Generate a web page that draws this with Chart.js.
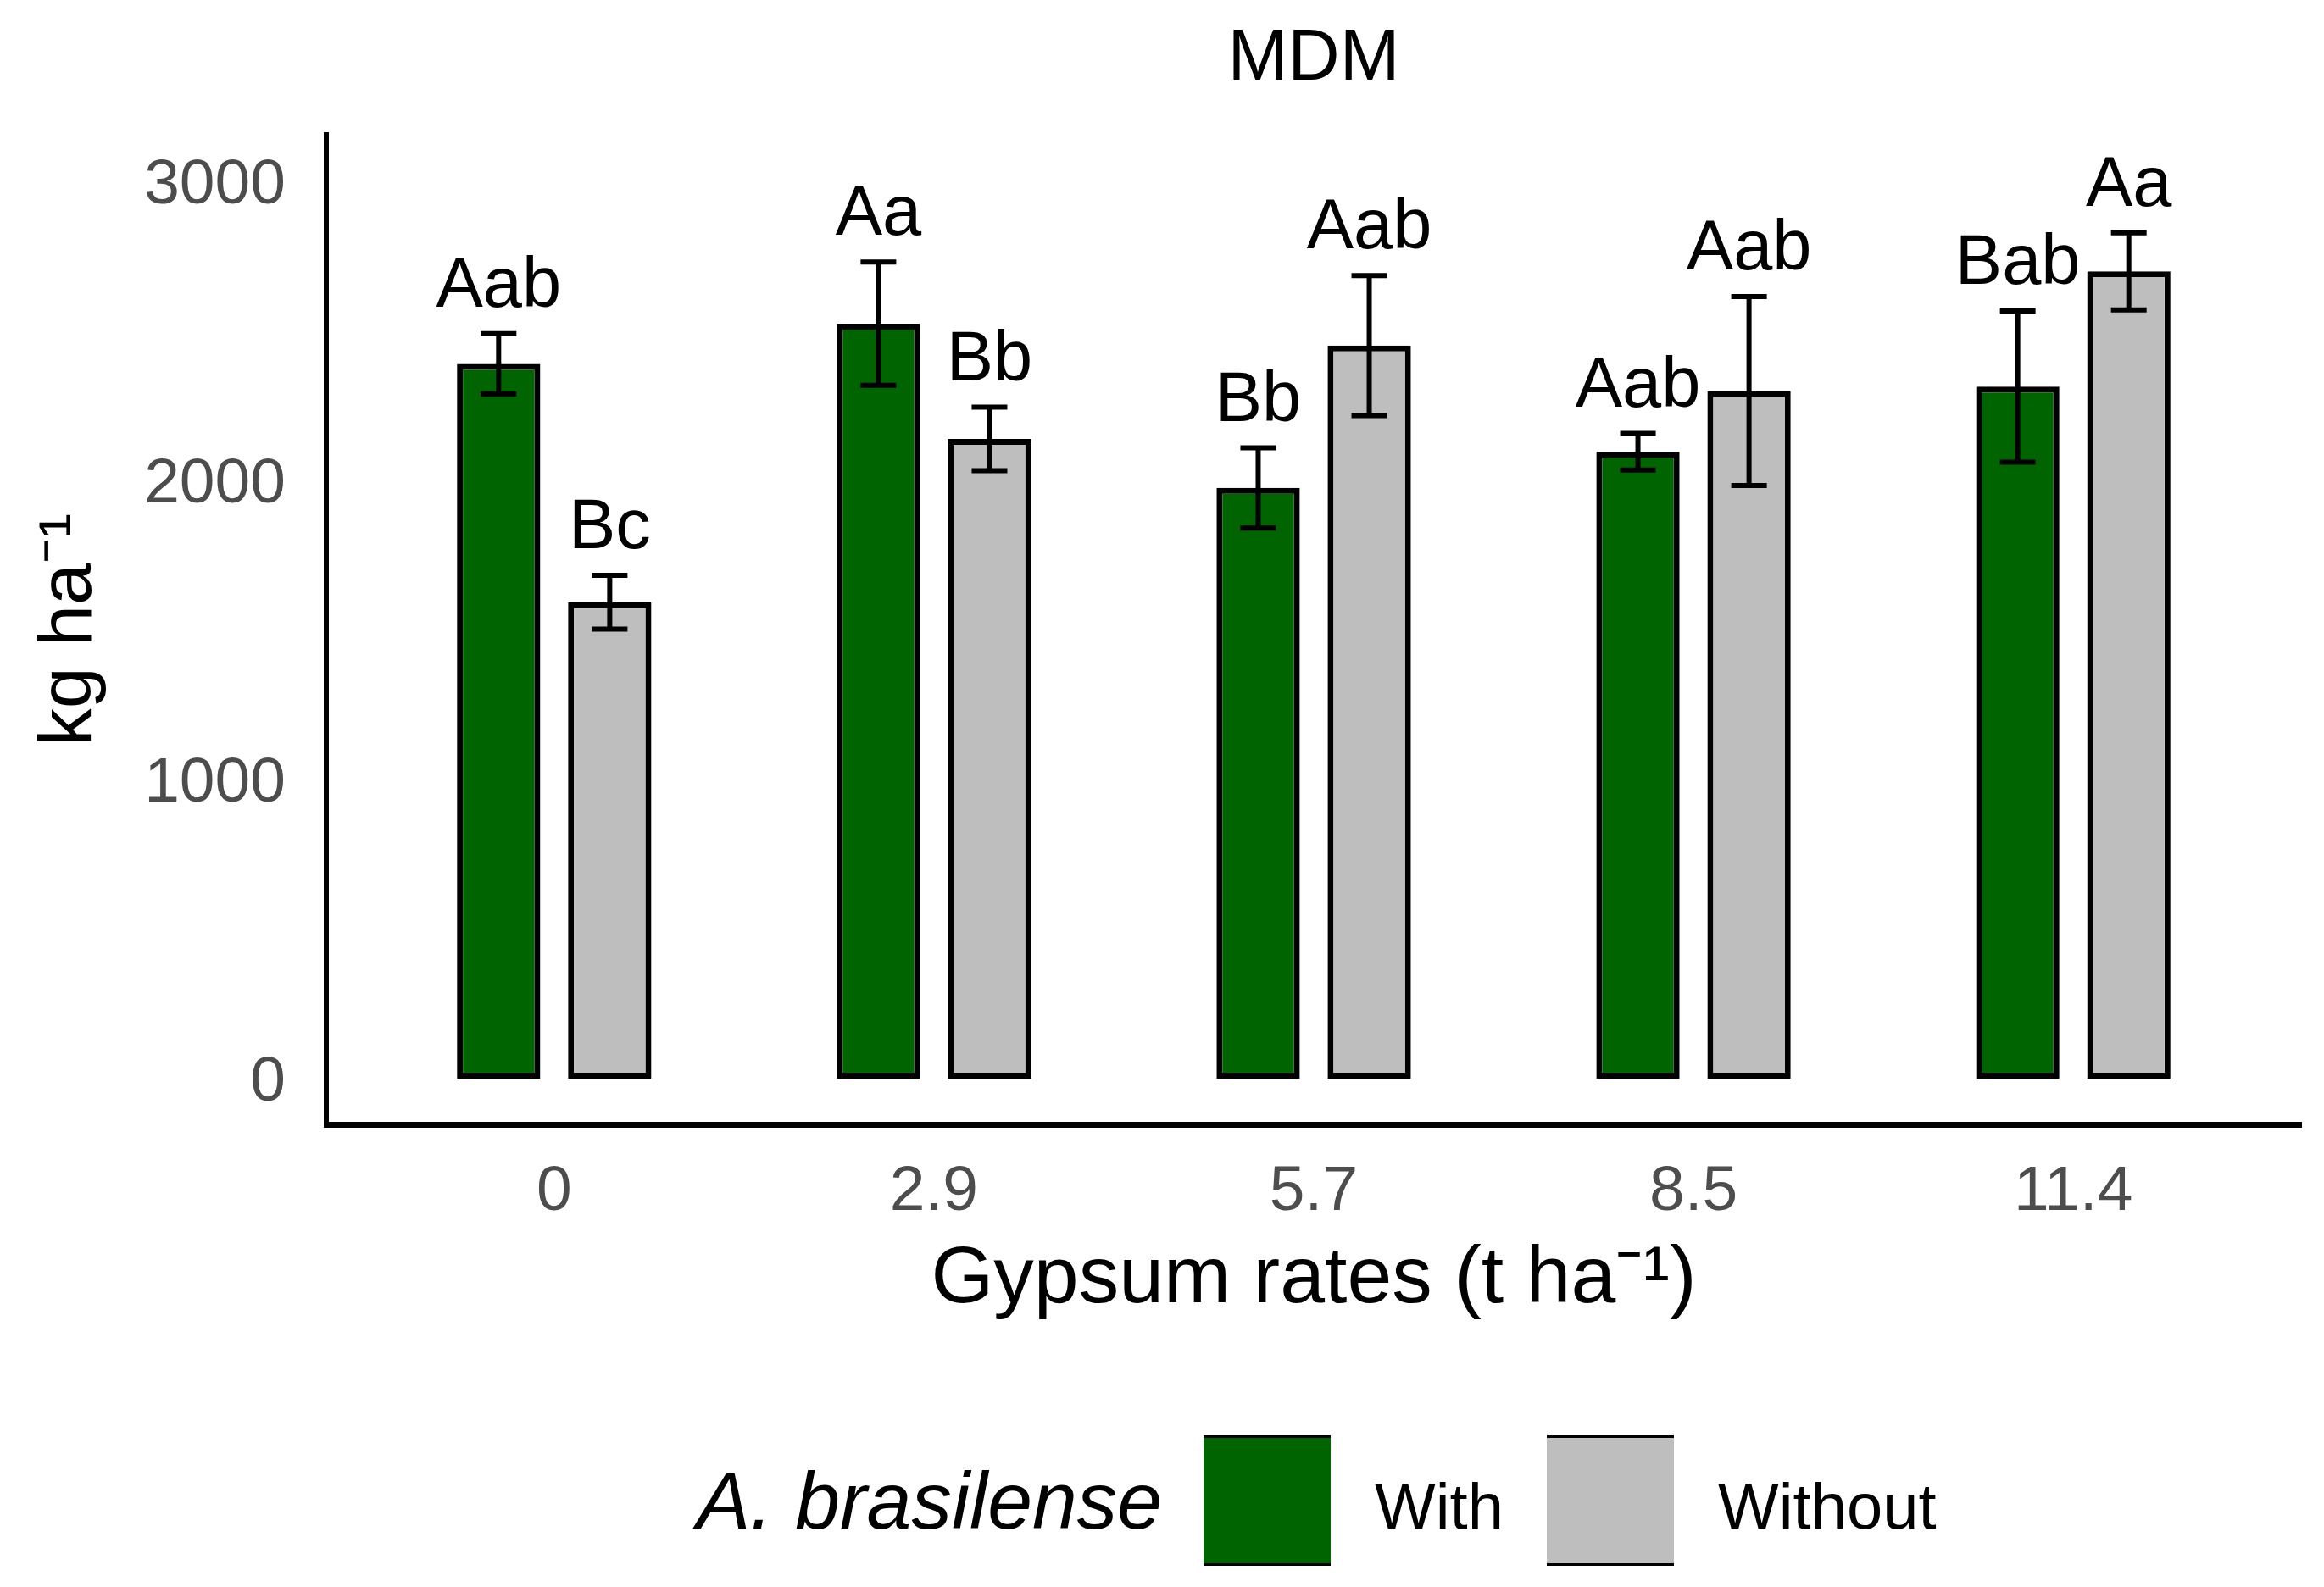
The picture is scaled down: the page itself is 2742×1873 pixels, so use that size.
<!DOCTYPE html>
<html>
<head>
<meta charset="utf-8">
<script src="https://cdn.jsdelivr.net/npm/chart.js@4.4.1/dist/chart.umd.min.js"></script>
<style>
  html, body { margin: 0; padding: 0; background: #fff; }
  #wrap { width: 2742px; height: 1873px; position: relative; }
</style>
</head>
<body>
<div id="wrap"><canvas id="chartMDM"></canvas></div>
<script>
// data
const rates = ["0", "2.9", "5.7", "8.5", "11.4"];
const withMean = [2390, 2524, 1975, 2096, 2314];
const withSE = [101, 206, 134, 61, 253];
const withLetters = ["Aab", "Aa", "Bb", "Aab", "Bab"];
const withoutMean = [1593, 2139, 2451, 2299, 2699];
const withoutSE = [90, 106, 234, 316, 129];
const withoutLetters = ["Bc", "Bb", "Aab", "Aab", "Aa"];
const yTicks = [0, 1000, 2000, 3000];

const FONT = "'Liberation Sans', Arial, sans-serif";
const GREEN = "#006400";
const GREY = "#BEBEBE";

const seList = [withSE, withoutSE];
const letterList = [withLetters, withoutLetters];

// error bars + letters above each bar
const errorBars = {
  id: "errorBars",
  afterDatasetsDraw(chart) {
    const ctx = chart.ctx;
    const y = chart.scales.y;
    ctx.save();
    chart.data.datasets.forEach((ds, di) => {
      const meta = chart.getDatasetMeta(di);
      meta.data.forEach((bar, i) => {
        const m = ds.data[i].y;
        const se = seList[di][i];
        const top = y.getPixelForValue(m + se);
        const bot = y.getPixelForValue(m - se);
        ctx.strokeStyle = "#000";
        ctx.lineWidth = 6;
        ctx.beginPath();
        ctx.moveTo(bar.x, top);
        ctx.lineTo(bar.x, bot);
        ctx.moveTo(bar.x - 21, top);
        ctx.lineTo(bar.x + 21, top);
        ctx.moveTo(bar.x - 21, bot);
        ctx.lineTo(bar.x + 21, bot);
        ctx.stroke();
        ctx.fillStyle = "#000";
        ctx.font = "83px " + FONT;
        ctx.textAlign = "center";
        ctx.textBaseline = "alphabetic";
        ctx.fillText(letterList[di][i], bar.x, top - 32);
      });
    });
    ctx.restore();
  }
};

// title over the panel and the legend at the bottom
const extras = {
  id: "extras",
  afterDraw(chart) {
    const ctx = chart.ctx;
    const a = chart.chartArea;
    ctx.save();
    ctx.fillStyle = "#000";
    ctx.font = "85px " + FONT;
    ctx.textAlign = "center";
    ctx.textBaseline = "alphabetic";
    ctx.fillText("MDM", (a.left + a.right) / 2, 94);

    ctx.textAlign = "left";
    ctx.font = "italic 95px " + FONT;
    ctx.fillText("A. brasilense", 822, 1804);

    const keys = [
      { x: 1420, color: GREEN, text: "With", tx: 1622 },
      { x: 1825, color: GREY, text: "Without", tx: 2027 },
    ];
    keys.forEach((k) => {
      ctx.fillStyle = k.color;
      ctx.fillRect(k.x, 1696, 150, 150);
      ctx.fillStyle = "#000";
      ctx.fillRect(k.x, 1694, 150, 3);
      ctx.fillRect(k.x, 1845, 150, 3);
      ctx.font = "76px " + FONT;
      ctx.fillText(k.text, k.tx, 1804);
    });
    ctx.restore();
  }
};

const ctx = document.getElementById("chartMDM").getContext("2d");

new Chart(ctx, {
  type: "bar",
  data: {
    datasets: [
      {
        label: "With",
        data: withMean.map((v, i) => ({ x: i, y: v })),
        backgroundColor: GREEN,
        borderColor: "#000",
        borderWidth: 7,
        borderSkipped: false,
      },
      {
        label: "Without",
        data: withoutMean.map((v, i) => ({ x: i, y: v })),
        backgroundColor: GREY,
        borderColor: "#000",
        borderWidth: 7,
        borderSkipped: false,
      },
    ],
  },
  options: {
    responsive: true,
    maintainAspectRatio: false,
    devicePixelRatio: 1,
    animation: false,
    categoryPercentage: 0.585,
    barPercentage: 0.75,
    layout: { padding: { left: 0, top: 159, right: 27, bottom: 273 } },
    plugins: {
      legend: { display: false },
      tooltip: { enabled: false },
    },
    scales: {
      x: {
        type: "linear",
        offset: false,
        min: -0.6,
        max: 4.6,
        afterBuildTicks: (scale) => {
          scale.ticks = rates.map((_, i) => ({ value: i }));
        },
        afterFit: (scale) => {
          scale.height = 273;
        },
        grid: { display: false, drawTicks: false },
        border: { display: true, color: "#000", width: 7 },
        ticks: {
          padding: 35,
          color: "#4D4D4D",
          font: { family: FONT, size: 75 },
          callback: (v) => rates[v],
        },
        title: {
          display: true,
          text: "Gypsum rates (t ha\u207B\u00B9)",
          color: "#000",
          font: { family: FONT, size: 95 },
          padding: { top: 0, bottom: 32 },
        },
      },
      y: {
        min: -153,
        max: 3156,
        afterBuildTicks: (scale) => {
          scale.ticks = yTicks.map((v) => ({ value: v }));
        },
        afterFit: (scale) => {
          scale.width = 385;
        },
        grid: { display: false, drawTicks: false },
        border: { display: true, color: "#000", width: 6 },
        ticks: {
          padding: 48,
          labelOffset: 5,
          color: "#4D4D4D",
          font: { family: FONT, size: 75 },
          callback: (v) => String(v),
        },
        title: {
          display: true,
          text: "kg ha\u207B\u00B9",
          color: "#000",
          font: { family: FONT, size: 88 },
          padding: { top: 30, bottom: 0 },
        },
      },
    },
  },
  plugins: [errorBars, extras],
});
</script>
</body>
</html>
